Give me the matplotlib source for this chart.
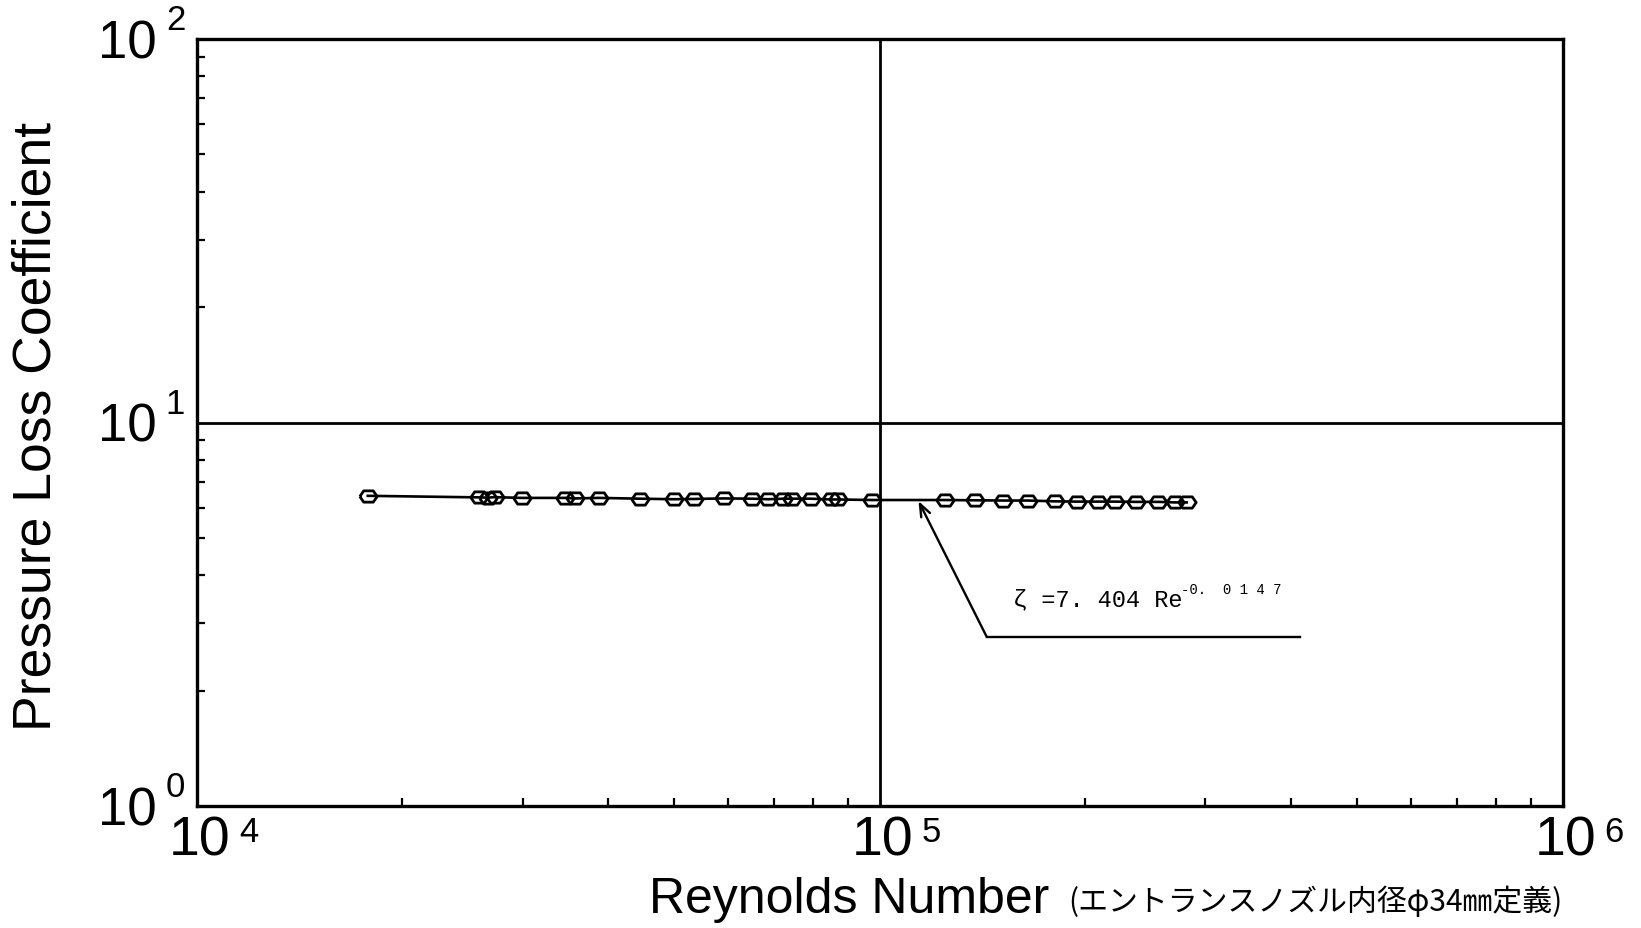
import matplotlib
matplotlib.use("Agg")
import matplotlib.pyplot as plt
from matplotlib.ticker import LogLocator, NullFormatter

# ---- data ----
reynolds = [17800, 25900, 26700, 27300, 29900, 34600, 35800, 38800, 44600, 50000,
            53400, 59100, 65100, 68700, 72100, 74300, 79400, 84900, 86900, 97500,
            124500, 138000, 151800, 165100, 180700, 194200, 209100, 221100, 237700,
            255900, 270800, 281600]
zeta = [6.44, 6.38, 6.37, 6.39, 6.36, 6.36, 6.34, 6.36, 6.33, 6.31,
        6.32, 6.34, 6.33, 6.31, 6.33, 6.33, 6.33, 6.30, 6.30, 6.28,
        6.28, 6.27, 6.26, 6.26, 6.23, 6.22, 6.22, 6.22, 6.21,
        6.21, 6.19, 6.19]

x_tick_vals = [1e4, 1e5, 1e6]
x_tick_exps = ['4', '5', '6']
y_tick_vals = [1, 10, 100]
y_tick_exps = ['0', '1', '2']

fit_text = "ζ =7. 404 Re"
fit_exp = "-0.  0 1 4 7"
arrow_tip = (114000, 6.24)
arrow_bend = (143500, 2.76)
leader_end = 412000
fit_text_pos = (157000, 3.47)

ylabel = "Pressure Loss Coefficient"
xlabel_en = "Reynolds Number"
xlabel_jp = "(エントランスノズル内径φ34㎜定義)"

# ---- figure ----
plt.rcParams['font.family'] = ['Liberation Sans', 'DejaVu Sans']
fig = plt.figure(figsize=(16.41, 9.29), dpi=100)
ax = fig.add_axes([0.1199, 0.1313, 0.8323, 0.8256])
ax.set_xscale('log')
ax.set_yscale('log')
ax.set_xlim(1e4, 1e6)
ax.set_ylim(1, 100)

for s in ax.spines.values():
    s.set_linewidth(2.4)

ax.xaxis.set_minor_locator(LogLocator(base=10, subs=range(2, 10)))
ax.yaxis.set_minor_locator(LogLocator(base=10, subs=range(2, 10)))
ax.xaxis.set_minor_formatter(NullFormatter())
ax.yaxis.set_minor_formatter(NullFormatter())
ax.set_xticks(x_tick_vals)
ax.set_yticks(y_tick_vals)
ax.set_xticklabels([])
ax.set_yticklabels([])
ax.tick_params(which='both', direction='in', top=False, right=False,
               width=1.6, length=6)
ax.tick_params(which='major', length=0)

# grid lines at 1e5 and 10
ax.axvline(1e5, color='black', lw=2.0, zorder=1)
ax.axhline(10, color='black', lw=2.0, zorder=1)

# flattened hexagon marker (shape only)
hex_marker = [(-1, 0), (-0.55, 0.65), (0.55, 0.65), (1, 0), (0.55, -0.65),
              (-0.55, -0.65), (-1, 0)]

# data
ax.plot(reynolds, zeta, color='black', lw=1.9, marker=hex_marker, ms=12.5,
        mfc='none', mec='black', mew=2.0, zorder=3)

# annotation
ax.plot([arrow_bend[0], leader_end], [arrow_bend[1], arrow_bend[1]],
        color='black', lw=1.7)
ax.annotate('', xy=arrow_tip, xytext=arrow_bend,
            arrowprops=dict(arrowstyle='->,head_length=0.9,head_width=0.35',
                            lw=1.7, color='black', shrinkA=0, shrinkB=0))
ax.text(fit_text_pos[0], fit_text_pos[1], fit_text, family='Liberation Mono',
        fontsize=17, ha='left', va='center')
ax.annotate(fit_exp, xy=fit_text_pos, xycoords='data', xytext=(168, 10),
            textcoords='offset pixels', family='Liberation Mono', fontsize=10,
            ha='left', va='center')

# tick labels
xt = ax.get_xaxis_transform()
for xv, e in zip(x_tick_vals, x_tick_exps):
    ax.annotate('10', xy=(xv, 0), xycoords=xt, xytext=(3, -8),
                textcoords='offset pixels', ha='center', va='top', fontsize=40)
    ax.annotate(e, xy=(xv, 0), xycoords=xt, xytext=(42, -9),
                textcoords='offset pixels', ha='left', va='top', fontsize=25)
yt = ax.get_yaxis_transform()
for yv, e in zip(y_tick_vals, y_tick_exps):
    ax.annotate('10', xy=(0, yv), xycoords=yt, xytext=(-40, -4),
                textcoords='offset pixels', ha='right', va='center', fontsize=38)
    ax.annotate(e, xy=(0, yv), xycoords=yt, xytext=(-31, 36),
                textcoords='offset pixels', ha='left', va='top', fontsize=25)

# axis labels
fig.text(37 / 1641, 1 - 426 / 929, ylabel, rotation=90, ha='center', va='center',
         fontsize=38.5)
fig.text(649 / 1641, 1 - 900 / 929, xlabel_en, ha='left', va='center', fontsize=36)
fig.text(1068 / 1641, 1 - 902 / 929, xlabel_jp, ha='left', va='center', fontsize=21.5,
         family=['Noto Sans CJK JP', 'DejaVu Sans'])

fig.savefig('out.png', dpi=100)
